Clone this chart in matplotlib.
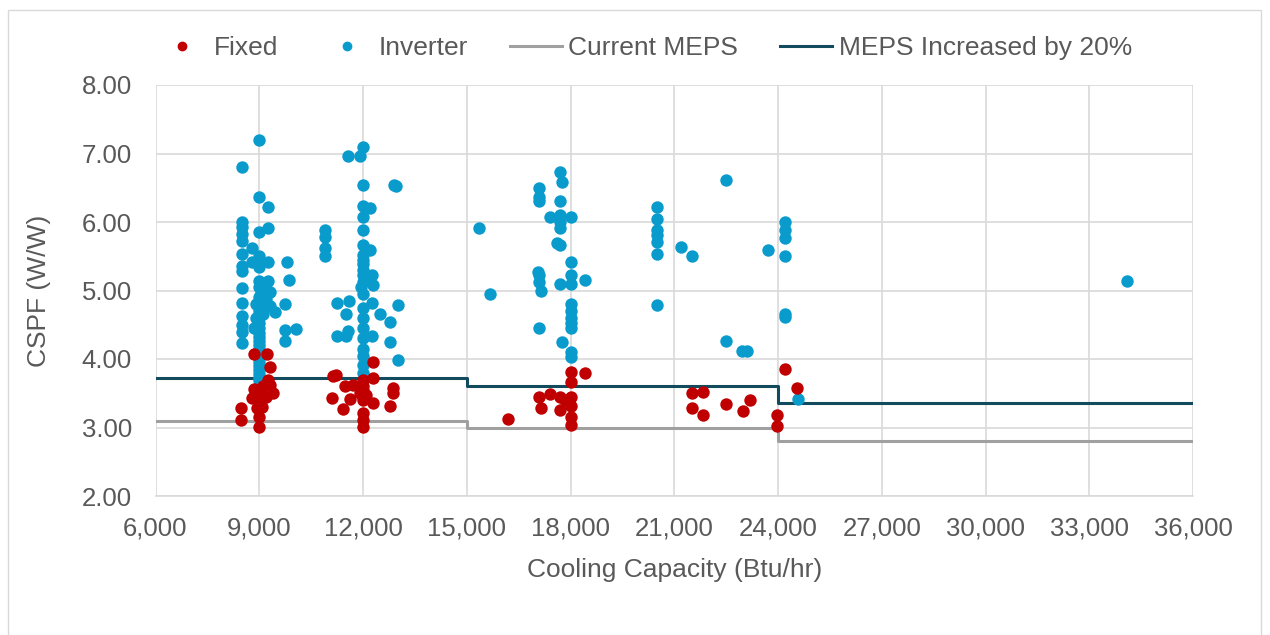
import numpy as np
import matplotlib
matplotlib.use("Agg")
import matplotlib.pyplot as plt
from matplotlib.lines import Line2D
from matplotlib.patches import Rectangle

plt.rcParams["font.family"] = ["Liberation Sans", "DejaVu Sans"]

# Fixed-speed units (capacity Btu/hr, CSPF W/W)
fixed_x = [8850, 9230, 9310, 9260, 9300, 8860, 9050, 9410, 8790, 9010, 9200,
           8930, 9070, 8470, 8980, 8470, 8980, 9000, 9100,
           12280, 11140, 11220, 12280, 11480, 11720, 12000, 12000, 12000, 12000,
           12000, 12000, 12880, 12880, 11100, 11630, 12300, 11430, 12780,
           12000, 12000, 12000, 11900, 12100,
           16200, 18000, 18430, 18000, 17100, 17400, 17700, 18000, 17150,
           17700, 18000, 18000, 18000, 17850,
           21510, 21830, 21510, 21830, 22500, 23200, 23000, 23970, 23970,
           24190, 24550]
fixed_y = [4.07, 4.07, 3.88, 3.69, 3.62, 3.56, 3.55, 3.51, 3.43, 3.45, 3.45,
           3.28, 3.30, 3.29, 3.15, 3.11, 3.01, 3.38, 3.60,
           3.96, 3.75, 3.77, 3.72, 3.60, 3.62, 3.69, 3.60, 3.50, 3.40,
           3.45, 3.55, 3.57, 3.50, 3.43, 3.41, 3.36, 3.27, 3.31,
           3.21, 3.11, 3.01, 3.50, 3.47,
           3.13, 3.81, 3.80, 3.67, 3.45, 3.49, 3.45, 3.45, 3.29,
           3.25, 3.32, 3.15, 3.03, 3.40,
           3.51, 3.52, 3.29, 3.18, 3.34, 3.40, 3.24, 3.18, 3.02,
           3.85, 3.57]

# Inverter units
inv_x = [9000, 8500, 9000, 9250, 8500, 8500, 9250, 9000, 8500, 8500, 8800, 8500,
         9000, 8800, 9250, 9800, 8500, 9000, 8500, 9000, 9250, 9850, 8500, 9050,
         9200, 9300, 8500, 8900, 9000, 9150, 9300, 9750, 9450, 8500, 9000, 9100,
         8500, 9000, 9750, 10050, 8500, 9750, 8850, 8500, 8900, 9200,
         9000, 9000, 9000, 9000, 9000, 9000, 9000, 9000, 9000, 9000, 9000,
         9000, 9000, 9000, 9000, 9000, 9000,
         12000, 11580, 11920, 12000, 12900, 12950, 12000, 12200, 12000,
         10900, 10900, 10900, 10900, 12000, 12000, 12200, 12000, 12000, 12000,
         12000, 12000, 12000, 12250, 12300, 11260, 11600, 11500, 12250, 12500,
         13000, 12780, 11260, 11580, 11500, 12250, 12000, 12000, 12000, 12000,
         12780, 13000, 12000, 12000, 12000, 12000, 12000, 11950,
         17700, 17750, 17100, 17100, 17100, 17700, 17400, 17700, 18000, 17700,
         17700, 15360, 17600, 17700, 18000, 18000, 18430, 17050, 17100, 17100,
         17150, 17700, 18000, 15660, 18000, 18000, 18000, 18000, 18000, 17100,
         17750, 18000, 18000,
         20500, 20500, 20500, 20500, 20500, 20500, 20500, 21190, 21510, 22500,
         22500, 22960, 23100, 23700, 24190, 24190, 24190, 24190, 24190, 24190,
         24570, 34100]
inv_y = [7.20, 6.81, 6.36, 6.22, 6.00, 5.93, 5.91, 5.86, 5.82, 5.72, 5.62, 5.53,
         5.51, 5.42, 5.42, 5.41, 5.36, 5.35, 5.28, 5.14, 5.14, 5.15, 5.03, 5.00,
         4.98, 4.98, 4.82, 4.80, 4.82, 4.80, 4.78, 4.80, 4.69, 4.63, 4.70, 4.65,
         4.49, 4.53, 4.42, 4.44, 4.24, 4.26, 4.45, 4.40, 4.60, 4.88,
         4.45, 4.38, 4.32, 4.26, 4.20, 4.14, 4.08, 4.02, 3.96, 3.90, 3.84,
         3.78, 3.72, 3.69, 4.90, 4.60, 5.05,
         7.10, 6.96, 6.97, 6.54, 6.54, 6.52, 6.23, 6.20, 6.08,
         5.88, 5.78, 5.62, 5.50, 5.88, 5.66, 5.59, 5.52, 5.45, 5.38,
         5.30, 5.22, 5.12, 5.23, 5.08, 4.82, 4.85, 4.65, 4.82, 4.66,
         4.79, 4.54, 4.34, 4.41, 4.33, 4.33, 4.95, 4.75, 4.60, 4.45,
         4.25, 3.99, 4.30, 4.15, 4.05, 3.91, 3.79, 5.05,
         6.73, 6.59, 6.49, 6.37, 6.30, 6.31, 6.08, 6.10, 6.08, 6.00,
         5.91, 5.91, 5.70, 5.66, 5.41, 5.23, 5.16, 5.27, 5.22, 5.12,
         5.00, 5.09, 5.10, 4.95, 4.80, 4.70, 4.60, 4.52, 4.45, 4.45,
         4.25, 4.10, 4.03,
         6.22, 6.05, 5.88, 5.81, 5.71, 5.54, 4.79, 5.63, 5.50, 6.62,
         4.26, 4.11, 4.11, 5.59, 6.00, 5.88, 5.76, 5.50, 4.66, 4.61,
         3.41, 5.14]

# MEPS step lines
meps_x = [6000, 15000, 15000, 24000, 24000, 36000]
meps_cur = [3.10, 3.10, 3.00, 3.00, 2.80, 2.80]
meps_20 = [3.72, 3.72, 3.60, 3.60, 3.36, 3.36]

RED = "#C00000"
BLUE = "#0A9BCD"
GRAY = "#A0A0A0"
DARK = "#124A5E"
TXT = "#595959"

fig = plt.figure(figsize=(12.7, 6.35), dpi=100, facecolor="white")
fig.patches.append(Rectangle((8 / 1270, -0.01), 1253 / 1270, 1 - 10 / 635 + 0.01,
                             transform=fig.transFigure, fill=False,
                             edgecolor="#d9d9d9", linewidth=1.0))
ax = fig.add_axes([155.5 / 1270, 1 - 496 / 635, (1193 - 155.5) / 1270, (496 - 85) / 635])

ax.plot(meps_x, meps_cur, color=GRAY, lw=2.2, zorder=2)
ax.plot(meps_x, meps_20, color=DARK, lw=2.2, zorder=2)
ax.scatter(inv_x, inv_y, s=80, color=BLUE, linewidths=0, zorder=3)
ax.scatter(fixed_x, fixed_y, s=80, color=RED, linewidths=0, zorder=4)

ax.set_xlim(6000, 36000)
ax.set_ylim(2, 8)
ax.set_xticks(np.arange(6000, 36001, 3000))
ax.set_xticklabels([f"{v:,}" for v in range(6000, 36001, 3000)])
ax.set_yticks(np.arange(2, 8.01, 1))
ax.set_yticklabels([f"{v:.2f}" for v in np.arange(2, 8.01, 1)])
ax.tick_params(axis="both", length=0, labelsize=18.5, colors=TXT)
ax.tick_params(axis="x", pad=15)
ax.tick_params(axis="y", pad=17)
ax.grid(True, color="#d9d9d9", linewidth=1.2, zorder=0)
ax.set_axisbelow(True)
for side in ["top", "right", "left"]:
    ax.spines[side].set_visible(False)
ax.spines["bottom"].set_color("#d9d9d9")
ax.spines["bottom"].set_linewidth(1.2)

ax.set_xlabel("Cooling Capacity (Btu/hr)", fontsize=19, color=TXT, labelpad=12)
ax.set_ylabel("CSPF (W/W)", fontsize=19, color=TXT, labelpad=22)

handles = [
    Line2D([], [], ls="none", marker="o", ms=6, color=RED, mec=RED),
    Line2D([], [], ls="none", marker="o", ms=6, color=BLUE, mec=BLUE),
    Line2D([], [], color=GRAY, lw=2.2),
    Line2D([], [], color=DARK, lw=2.2),
]
labels = ["Fixed", "Inverter", "Current MEPS", "MEPS Increased by 20%"]
leg = fig.legend(handles, labels, loc="center", bbox_to_anchor=(0.507, 1 - 48 / 635),
                 ncol=4, frameon=False, fontsize=19, handlelength=1.97,
                 handletextpad=0.23, columnspacing=1.6, labelcolor=TXT)

fig.savefig("out.png", dpi=100, facecolor="white")
